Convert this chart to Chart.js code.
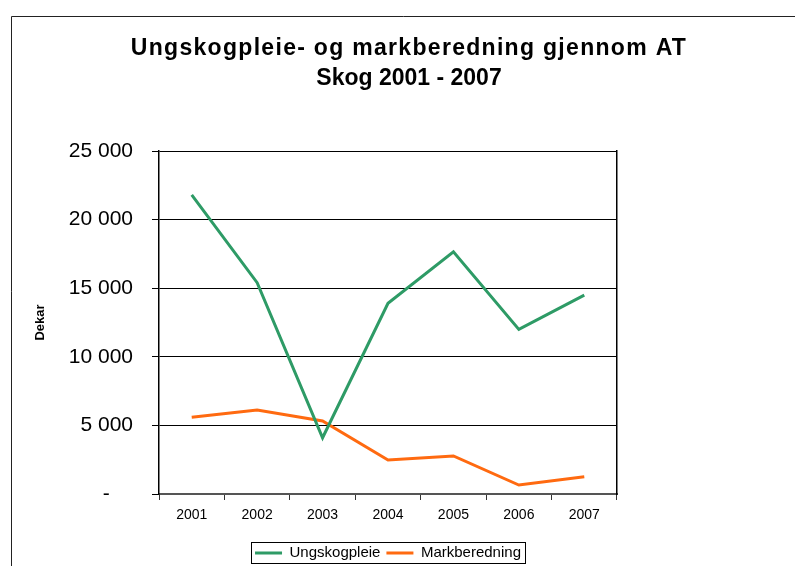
<!DOCTYPE html>
<html>
<head>
<meta charset="utf-8">
<script src="https://cdn.jsdelivr.net/npm/chart.js@4"></script>
<style>
html,body{margin:0;padding:0;background:#fff;}
canvas{display:block;}
</style>
</head>
<body>
<canvas id="c" width="795" height="566"></canvas>
<script>
const years = ['2001','2002','2003','2004','2005','2006','2007'];
const ungskogpleie = [21800, 15400, 4100, 13900, 17650, 12000, 14500];
const markberedning = [5600, 6120, 5320, 2480, 2770, 650, 1260];
const yTicks = [0, 5000, 10000, 15000, 20000, 25000];
const titleLine1 = 'Ungskogpleie- og markberedning gjennom AT';
const titleLine2 = 'Skog 2001 - 2007';
const yTitle = 'Dekar';

const FONT = '"Liberation Sans", Arial, sans-serif';

function fmt(v){
  if (v === 0) return '-    ';
  const s = String(Math.round(v));
  return s.replace(/\B(?=(\d{3})+(?!\d))/g, ' ');
}

const framePlugin = {
  id: 'frame',
  beforeDraw(chart){
    const tb = chart.titleBlock;
    if (tb && !tb._lsPatched) {
      const orig = tb.draw;
      tb.draw = function(){
        const ctx = chart.ctx;
        ctx.save();
        try { ctx.letterSpacing = '1.3px'; } catch(e) {}
        orig.apply(tb, arguments);
        ctx.restore();
      };
      tb._lsPatched = true;
    }
    const ctx = chart.ctx;
    ctx.save();
    ctx.strokeStyle = '#222';
    ctx.lineWidth = 1;
    ctx.beginPath();
    ctx.moveTo(11.5, 566);
    ctx.lineTo(11.5, 16.5);
    ctx.lineTo(795, 16.5);
    ctx.stroke();
    ctx.restore();
  },
  afterDraw(chart){
    const lg = chart.legend;
    if (!lg || !lg.legendHitBoxes || !lg.legendHitBoxes.length) return;
    const hb = lg.legendHitBoxes;
    const l = hb[0].left - 4;
    const r = hb[hb.length-1].left + hb[hb.length-1].width + 4;
    const ctx = chart.ctx;
    ctx.save();
    ctx.strokeStyle = '#000';
    ctx.lineWidth = 1;
    ctx.strokeRect(Math.round(l)+0.5, 542.5, Math.round(r-l), 21);
    ctx.restore();
  }
};

new Chart(document.getElementById('c'), {
  type: 'line',
  data: {
    labels: years,
    datasets: [
      {label: 'Ungskogpleie', data: ungskogpleie, borderColor: '#2E9B66', backgroundColor: '#2E9B66', borderWidth: 3, pointRadius: 0, tension: 0, yAxisID: 'y'},
      {label: 'Markberedning', data: markberedning, borderColor: '#FF6A10', backgroundColor: '#FF6A10', borderWidth: 3, pointRadius: 0, tension: 0, yAxisID: 'y'}
    ]
  },
  options: {
    responsive: false,
    animation: false,
    devicePixelRatio: 1,
    layout: {padding: {left: 23, right: 0, top: 0, bottom: 0}},
    plugins: {
      title: {
        display: true,
        text: titleLine1,
        color: '#000',
        font: {family: FONT, size: 23, weight: 'bold', lineHeight: 30/23},
        padding: {top: 34, bottom: 0}
      },
      subtitle: {
        display: true,
        text: titleLine2,
        color: '#000',
        font: {family: FONT, size: 23, weight: 'bold', lineHeight: 30/23},
        padding: {top: 0, bottom: 57}
      },
      legend: {
        display: true,
        position: 'bottom',
        fullSize: false,
        maxHeight: 26.5,
        labels: {
          color: '#000',
          font: {family: FONT, size: 15},
          usePointStyle: true,
          pointStyle: 'line',
          pointStyleWidth: 27,
          padding: 6
        }
      },
      tooltip: {enabled: false}
    },
    scales: {
      x: {
        offset: true,
        grid: {display: true, drawOnChartArea: false, drawTicks: true, tickLength: 6, offset: true, color: '#333', lineWidth: 1},
        border: {display: true, color: '#555', width: 2},
        ticks: {color: '#000', font: {family: FONT, size: 14}, padding: 7, maxRotation: 0},
        afterFit(s){ s.height = 45.5; }
      },
      y: {
        position: 'left',
        min: 0, max: 25000,
        afterBuildTicks(s){ s.ticks = yTicks.map(v => ({value: v})); },
        grid: {display: true, drawOnChartArea: true, drawTicks: true, tickLength: 7, color: '#000', lineWidth: 1},
        border: {display: true, color: '#000', width: 1.5},
        ticks: {color: '#000', font: {family: FONT, size: 21}, padding: 19, callback: (v) => fmt(v)},
        title: {display: true, text: yTitle, color: '#000', font: {family: FONT, size: 13, weight: 'bold'}, padding: {top: 10, bottom: 0}},
        afterFit(s){ s.width = 136; }
      },
      yR: {
        position: 'right',
        display: true,
        min: 0, max: 25000,
        grid: {display: false, drawTicks: false},
        border: {display: true, color: '#000', width: 1.5},
        ticks: {display: false},
        afterFit(s){ s.width = 178; }
      }
    }
  },
  plugins: [framePlugin]
});
</script>
</body>
</html>
